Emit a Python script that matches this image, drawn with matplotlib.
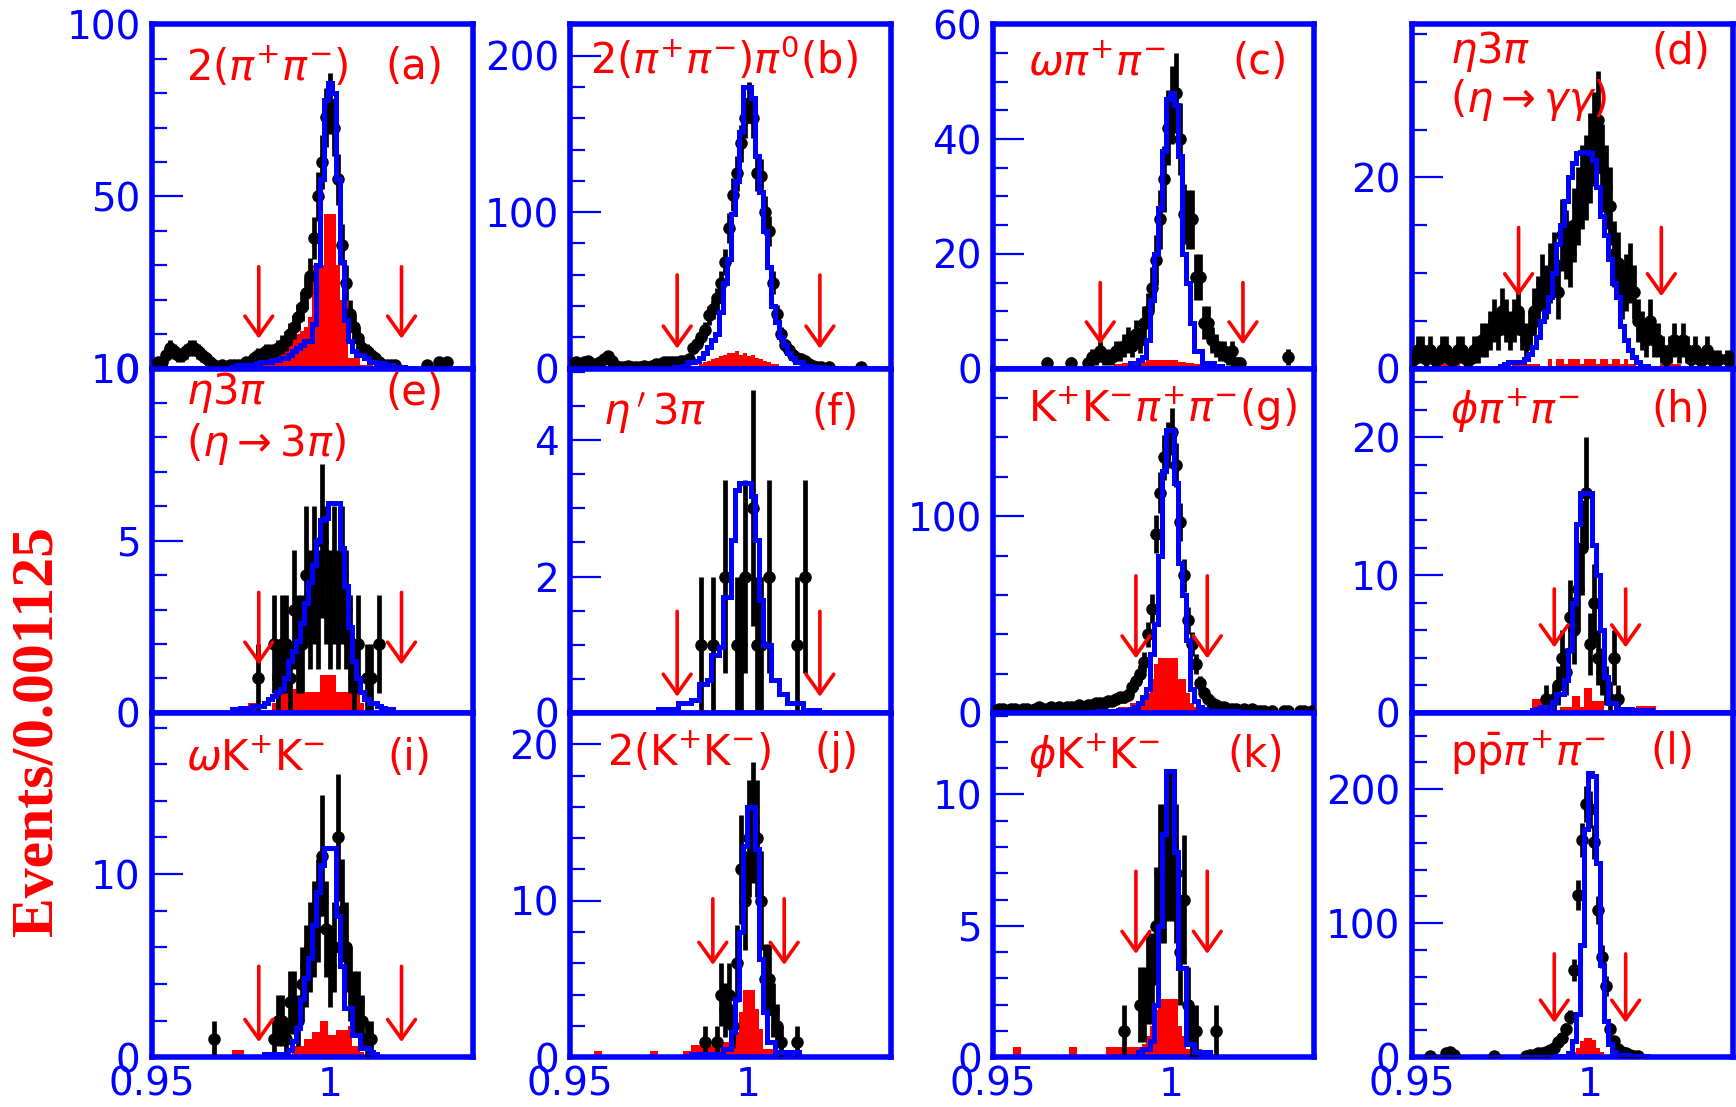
import numpy as np
import matplotlib
matplotlib.use("Agg")

import matplotlib.pyplot as plt
from matplotlib.ticker import MultipleLocator

# ---------------------------------------------------------------------------
# Binning: 80 bins of width 0.001125 starting at 0.95
# ---------------------------------------------------------------------------
X_LO = 0.95
BIN_WIDTH = 0.001125
N_BINS = 80

# Every series is (index of first listed bin, contents from that bin on).
# Bins that are not listed are empty.

# (a) 2(pi+pi-)
a_obs = (0, [1, 2, 2, 4, 6, 5, 4, 4, 5, 6,
             6, 5, 4, 3, 2, 1, 0, 1, 0, 1,
             1, 1, 1, 2, 2, 3, 4, 4, 5, 5,
             5, 6, 7, 8, 10, 12, 15, 18, 22, 27,
             38, 50, 60, 73, 77, 70, 55, 36, 25, 16,
             12, 9, 6, 5, 4, 3, 2, 1, 1, 1,
             1, 0, 0, 0, 0, 0, 0, 0, 1, 0,
             0, 2, 0, 2])
a_mc = (20, [0.5, 1, 1, 1, 1, 1, 1.5, 2, 2, 2,
             2.5, 2.5, 3, 3, 4, 5, 6, 7, 8, 8,
             13, 30, 55, 78, 83, 80, 55, 31, 14, 8,
             5, 4, 4, 3, 2, 2, 1.5, 1.5, 1, 1,
             0.5, 0.5, 0.5])
a_bkg = (0, [0.7, 0.7, 0.7, 0.7, 0.7, 0.7, 0.7, 0.7, 0.7, 0.7,
             0.7, 0.7, 0.7, 0.7, 0.7, 0.7, 1, 1, 1, 1,
             1, 1.5, 2, 2, 2.5, 3, 3, 3.5, 4, 4.5,
             5, 6, 6, 7, 8, 9, 10, 11, 12, 15,
             30, 30, 30, 45, 45, 45, 30, 20, 20, 3,
             3, 3, 1, 1, 1, 0.5, 0.5, 0.5, 0.5, 0.5, 0.5])

# (b) 2(pi+pi-)pi0
b_obs = (0, [3, 4, 3, 4, 5, 3, 3, 4, 6, 8,
             5, 2, 1, 1, 2, 1, 1, 1, 2, 1,
             2, 3, 3, 4, 4, 4, 4, 5, 5, 6,
             13, 16, 20, 25, 34, 38, 45, 55, 68, 90,
             111, 125, 144, 160, 170, 160, 125, 123, 100, 88,
             55, 35, 22, 15, 12, 9, 7, 6, 5, 3,
             2, 1, 1, 0, 1, 0, 0, 0, 0, 0,
             0, 0, 1])
b_mc = (26, [1, 1, 2, 4, 4, 5, 7, 10, 14, 18,
             22, 36, 55, 70, 99, 120, 151, 180, 180, 173,
             136, 113, 88, 65, 40, 30, 20, 15, 10, 7,
             4, 4, 2, 2, 1, 1, 1, 0.5, 0.5, 0.5])
b_bkg = (10, [1, 1, 1, 1, 1, 1, 1, 1, 1, 1,
              1, 1, 1, 1, 1, 1, 1, 1, 1, 1,
              1, 2, 3, 4, 5, 6, 7, 8, 9, 10,
              10, 11, 9, 10, 8, 9, 7, 6, 5, 4,
              3, 3, 2, 2, 1, 1, 0.5, 0.5, 0.5, 0.5,
              0.5, 0.5, 0.5, 0.5, 0.5, 0.5])

# (c) omega pi+pi-
c_obs = (13, [1, 0, 0, 0, 0, 0, 1, 0, 0, 0,
              1, 2, 2, 3, 2, 2, 2, 3, 3, 4,
              5, 4, 6, 5, 8, 10, 14, 19, 26, 33,
              42, 46, 48, 40, 27, 26, 26, 16, 16, 8,
              8, 5, 4, 3, 3, 2, 3, 1, 1, 0,
              0, 0, 0, 0, 0, 0, 0, 0, 0, 0, 2])
c_mc = (34, [1, 1, 1.5, 2, 5, 12, 20, 28, 38, 47,
             48, 46, 37, 20, 15, 8, 3, 3, 1, 1, 1, 0.5, 0.5])
c_bkg = (0, [0.5, 0.5, 0.5, 0, 0, 0, 0, 0, 0, 0,
             0, 0, 0, 0, 0, 0, 0, 0, 0, 0,
             0, 0, 0, 0, 0, 0, 0, 0, 0.5, 0.5,
             0.8, 0.8, 1, 1, 1, 1.2, 1.2, 1.2, 1.5, 1.5,
             1.5, 1.5, 1.5, 1.5, 1.5, 1.5, 1.2, 1.2, 1, 1,
             0.8, 0.8, 0.5, 0.5, 0.5])

# (d) eta 3pi, eta -> gamma gamma
d_obs = (0, [1, 2, 2, 1, 2, 1, 1, 2, 2, 1,
             1, 2, 2, 1, 1, 2, 2, 3, 3, 4,
             5, 4, 6, 5, 4, 5, 6, 4, 3, 4,
             6, 7, 9, 8, 10, 11, 8, 14, 13, 12,
             15, 17, 19, 20, 22, 24, 26, 21, 19, 17,
             12, 11, 8, 9, 10, 8, 5, 4, 3, 5,
             3, 3, 2, 1, 2, 3, 2, 3, 2, 1,
             2, 1, 1, 2, 1, 1, 1, 0, 1, 1])
d_mc = (22, [0.3, 0.5, 0.7, 0.7, 0.7, 0.7, 1, 1.5, 2.3, 3.3,
             5, 6, 7.5, 10, 13, 15, 17.5, 20, 21.5, 22.5,
             22.7, 22.7, 22.5, 21.8, 19, 16, 14, 11.5, 9, 7.5,
             4.5, 3, 2, 1.2, 0.7, 0.3, 0.3])
d_bkg = (6, [0.5, 0.5, 0.5, 0.5, 0.5, 0.5, 0, 0, 0, 0,
             0, 0, 0, 0, 0, 0, 0, 0, 0, 0.5,
             0.5, 0.5, 0.5, 0.5, 0.5, 0.5, 0, 0, 1, 0,
             1, 1, 0.5, 1, 1, 1, 0.5, 1, 1, 1,
             0.5, 1, 1, 0.5, 1, 1, 0.5, 1, 0.5, 0.5,
             0, 0, 0, 0, 0, 0, 0.5, 0.5, 0.5, 0.5, 0.5])

# (e) eta 3pi, eta -> 3pi
e_obs = (26, [1, 0, 0, 0, 2, 1, 2, 2, 1, 3,
              2, 2, 4, 3, 4, 3, 5, 4, 3, 4,
              3, 4, 3, 2, 1, 2, 0, 1, 1, 0, 2])
e_mc = (20, [0.1, 0.1, 0.15, 0.15, 0.15, 0.2, 0.2, 0.2, 0.3, 0.4,
             0.5, 0.6, 0.7, 1.0, 1.5, 1.8, 2.1, 2.6, 3.2, 3.8,
             4.3, 5.0, 5.6, 5.65, 6.1, 6.1, 6.1, 4.8, 3.7, 2.5,
             1.5, 1.0, 0.6, 0.4, 0.3, 0.3, 0.2, 0.15, 0.1, 0.1])
e_bkg = (24, [0.3, 0.3, 0, 0, 0, 0, 0.3, 0.7, 0.7, 0.7,
              0.7, 0.7, 0.6, 0.6, 0.6, 0.6, 0.6, 0.6, 1.1, 1.1,
              1.1, 1.1, 0.6, 0.6, 0.6, 0.6, 0.6, 0.6, 0.3])

# (f) eta' 3pi
f_obs = (32, [1, 0, 0, 1, 0, 0, 2, 0, 0, 1,
              1, 2, 0, 3, 1, 1, 0, 2, 0, 0,
              0, 0, 0, 0, 1, 0, 2])
f_mc = (22, [0.05, 0.05, 0.05, 0.05, 0.05, 0.14, 0.14, 0.14, 0.19, 0.19,
             0.43, 0.43, 0.48, 0.85, 0.85, 0.97, 1.7, 1.7, 2.54, 3.27,
             3.37, 3.37, 3.37, 3.18, 2.54, 1.66, 1.0, 1.0, 0.48, 0.48,
             0.28, 0.28, 0.14, 0.14, 0.14, 0.14, 0.04, 0.04, 0.04, 0.04])
f_bkg = (0, [])

# (g) K+K-pi+pi-
g_obs = (0, [1, 2, 2, 1, 2, 2, 1, 2, 2, 1,
             2, 3, 2, 2, 3, 2, 3, 2, 3, 3,
             3, 4, 3, 4, 4, 5, 5, 5, 6, 6,
             7, 8, 8, 9, 13, 16, 20, 26, 40, 53,
             91, 112, 130, 136, 143, 126, 97, 70, 47, 35,
             25, 15, 10, 7, 5, 4, 3, 3, 2, 2,
             2, 1, 2, 1, 2, 1, 1, 1, 0, 1,
             0, 0, 1, 1, 0, 0, 1, 1, 0, 1])
g_mc = (24, [0.5, 0.5, 1, 1, 1, 1, 1, 1.5, 1.5, 1.5,
             2, 3, 5, 8, 12, 30, 45, 80, 123, 144,
             144, 117, 76, 60, 37, 12, 6, 3, 2, 1,
             1, 1, 1, 1, 1, 1, 1, 0.5, 0.5, 0.5])
g_bkg = (0, [1, 1, 1, 1, 1, 1, 1, 1, 1, 1,
             1, 1, 1, 1, 1, 1.5, 1.5, 1.5, 1.5, 1.5,
             1.5, 1.5, 1.5, 1.5, 1.5, 1.5, 2, 2, 2, 2,
             2, 3, 3, 3, 5, 5, 6, 8, 10, 17,
             25, 28, 28, 28, 28, 28, 17, 17, 10, 5,
             3, 3, 1, 1, 1, 1, 1, 1, 1, 1,
             1, 0.5, 0.5, 0.5, 0.5, 0.5, 0.5, 0.5, 0.5, 0.5,
             0.5, 0.5, 0.5, 0.5, 0.5, 0.5, 0.5, 0.5, 0.5, 0.5])

# (h) phi pi+pi-
h_obs = (33, [1, 0, 1, 2, 4, 3, 7, 6, 9, 12,
              16, 5, 8, 4, 3, 2, 1, 4, 1])
h_mc = (30, [0.2, 0.3, 0.44, 0.44, 0.44, 0.8, 1.4, 1.4, 2.4, 4.6,
             8, 13.7, 16, 16, 16, 12.2, 10, 6, 2.6, 0.7,
             0.7, 0.3, 0.3, 0.3, 0.3, 0.2, 0.2, 0.2, 0.2, 0.2])
h_bkg = (30, [1, 1, 1, 0, 0, 0, 0, 0.4, 0.4, 0.4,
              1.2, 1.2, 0.4, 1.8, 1.8, 0.9, 0.9, 0.9, 0, 0,
              0, 0, 0, 0, 0, 0, 0.5, 0.5, 0.5, 0.5, 0.5])

# (i) omega K+K-
i_obs = (15, [1, 0, 0, 0, 0, 0, 0, 0, 0, 0,
              0, 0, 0, 0, 0, 1, 2, 2, 1, 3,
              3, 2, 4, 5, 6, 7, 8, 11, 7, 5,
              6, 12, 8, 6, 4, 3, 3, 2, 1, 1])
i_mc = (28, [0.2, 0.2, 0.2, 0.2, 0.2, 0.2, 0.4, 0.9, 1.6, 3.2,
             4.3, 5.4, 7.2, 9, 10.5, 11.4, 11.4, 11.4, 7.7, 5,
             2.7, 2.7, 1.2, 1.2, 0.5, 0.5, 0.3, 0.2])
i_bkg = (20, [0.4, 0.4, 0.4, 0, 0, 0, 0, 0, 0, 0,
              0, 0, 0, 0, 0, 0.6, 0.6, 0.6, 1, 1,
              1.4, 1.4, 2, 2, 1.2, 1.2, 1.5, 1.5, 1.5, 1.7,
              0.6, 0.6, 0.3])

# (j) 2(K+K-)
j_obs = (33, [1, 0, 0, 1, 4, 3, 4, 2, 6, 12,
              10, 14, 15, 14, 10, 5, 5, 3, 2, 1,
              0, 0, 0, 1])
j_mc = (30, [0.2, 0.2, 0.2, 0.2, 0.2, 0.2, 0.2, 0.2, 0.5, 0.5,
             1.6, 3.7, 8, 13.5, 16, 16, 13.3, 6.3, 2.9, 1,
             1, 0.3, 0.3, 0.3, 0.3, 0.3, 0.3])
j_bkg = (6, [0.4, 0.4, 0, 0, 0, 0, 0, 0, 0, 0,
             0, 0, 0, 0, 0.4, 0.4, 0, 0, 0, 0,
             0, 0, 0.4, 0.4, 0.75, 0.75, 0.75, 0.75, 0.75, 0.75,
             0.75, 1, 1, 1, 1.6, 1.6, 2.9, 4.3, 4.3, 4.3,
             3.1, 1.8, 0.5, 0.5, 0.5])

# (k) phi K+K-
k_obs = (32, [1, 0, 0, 0, 2, 2, 3, 3, 5, 7,
              7, 8, 8, 7, 4, 6, 2, 1, 1, 0,
              0, 0, 0, 1])
k_mc = (36, [0.2, 0.3, 0.3, 0.6, 2, 5, 8.5, 10.9, 10.9, 7.8,
             3.4, 3.4, 0.5, 0.5, 0.2, 0.2, 0.2, 0.2])
k_bkg = (5, [0.4, 0.4, 0, 0, 0, 0, 0, 0, 0, 0,
             0, 0, 0, 0, 0.4, 0.4, 0, 0, 0, 0,
             0, 0, 0, 0.4, 0.4, 0.4, 0.4, 0.4, 0.4, 0.4,
             0.4, 0.4, 0.5, 0.8, 1.2, 1.8, 2.2, 2.2, 2.2, 2.2,
             2.2, 1.2, 0.8, 0.3, 0.3, 0.3, 0.3])

# (l) p pbar pi+pi-
l_obs = (4, [1, 0, 0, 0, 3, 4, 2, 0, 0, 0,
             0, 0, 0, 0, 0, 0, 1, 0, 0, 0,
             0, 0, 0, 0, 1, 2, 2, 3, 3, 4,
             5, 7, 11, 14, 21, 30, 65, 121, 162, 189,
             185, 161, 110, 75, 53, 21, 12, 6, 4, 3,
             2, 1, 1])
l_mc = (31, [0.5, 0.5, 0.5, 0.5, 0.5, 1, 1, 1, 3, 12,
             32, 84, 170, 212, 210, 145, 69, 27, 10, 4,
             2, 2, 2, 1, 1, 1, 1, 1])
l_bkg = (37, [1, 2, 2, 4, 7, 12, 14, 14, 13, 7, 4, 2, 2, 1])

# channel names, panel tags, y ranges and cut positions
channel_labels = [r"$2(\pi^{+}\pi^{-})$", r"$2(\pi^{+}\pi^{-})\pi^{0}$(b)",
                  r"$\omega\pi^{+}\pi^{-}$", r"$\eta3\pi$",
                  r"$\eta3\pi$", r"$\eta\,'\,3\pi$",
                  r"$\mathrm{K}^{+}\mathrm{K}^{-}\pi^{+}\pi^{-}$(g)", r"$\phi\pi^{+}\pi^{-}$",
                  r"$\omega\mathrm{K}^{+}\mathrm{K}^{-}$", r"$2(\mathrm{K}^{+}\mathrm{K}^{-})$",
                  r"$\phi\mathrm{K}^{+}\mathrm{K}^{-}$", r"p$\bar{\mathrm{p}}\pi^{+}\pi^{-}$"]
decay_labels = {3: r"$(\eta\rightarrow\gamma\gamma)$", 4: r"$(\eta\rightarrow3\pi)$"}
panel_tags = ["(a)", None, "(c)", "(d)", "(e)", "(f)", None, "(h)",
              "(i)", "(j)", "(k)", "(l)"]
y_tops = [100, 220, 60, 36, 10, 5.05, 175, 25, 18.8, 22, 13.1, 257]
y_major = [50, 100, 20, 20, 5, 2, 100, 10, 10, 10, 5, 100]
y_minor = [10, 20, 5, 5, 1, 0.5, 20, 2, 2, 2, 1, 20]
wide_cuts = [0.98, 1.02]
narrow_cuts = [0.99, 1.01]
cut_sets = [wide_cuts, wide_cuts, wide_cuts, wide_cuts,
            wide_cuts, wide_cuts, narrow_cuts, narrow_cuts,
            wide_cuts, narrow_cuts, narrow_cuts, narrow_cuts]
x_ticks = [0.95, 1.0]
x_tick_labels = ["0.95", "1"]

observed = [a_obs, b_obs, c_obs, d_obs, e_obs, f_obs,
            g_obs, h_obs, i_obs, j_obs, k_obs, l_obs]
signal_mc = [a_mc, b_mc, c_mc, d_mc, e_mc, f_mc,
             g_mc, h_mc, i_mc, j_mc, k_mc, l_mc]
background = [a_bkg, b_bkg, c_bkg, d_bkg, e_bkg, f_bkg,
              g_bkg, h_bkg, i_bkg, j_bkg, k_bkg, l_bkg]

# ---------------------------------------------------------------------------
# Layout / style (figure fractions, axes fractions)
# ---------------------------------------------------------------------------
COL_LEFT = [0.0874, 0.3284, 0.5721, 0.8131]
ROW_BOTTOM = [0.667, 0.356, 0.045]
PANEL_W = 0.185
PANEL_H = 0.311

# (top, tip) of the cut arrows in axes fraction
ARROW_Y = [(0.296, 0.087), (0.272, 0.058), (0.25, 0.07), (0.41, 0.21),
           (0.35, 0.14), (0.295, 0.047), (0.398, 0.158), (0.36, 0.19),
           (0.264, 0.044), (0.46, 0.268), (0.54, 0.30), (0.30, 0.10)]
LABEL_POS = [(0.107, 0.875), (0.062, 0.90), (0.107, 0.89), (0.121, 0.92),
             (0.107, 0.93), (0.103, 0.87), (0.107, 0.885), (0.121, 0.88),
             (0.107, 0.87), (0.114, 0.887), (0.107, 0.877), (0.121, 0.887)]
TAG_X = [0.907, None, 0.917, 0.93, 0.907, 0.897, None, 0.93,
         0.872, 0.897, 0.907, 0.88]
DECAY_Y = 0.78

BLUE = "#0000ff"
RED = "#ff0000"
LABEL_SIZE = 30
TICK_SIZE = 28


def binned(series):
    """Spread a (start, values) series over the full 80-bin range."""
    start, values = series
    out = np.zeros(N_BINS)
    out[start:start + len(values)] = values
    return out


def draw_panel(ax, idx, edges, centers):
    obs = binned(observed[idx])
    mc = binned(signal_mc[idx])
    bkg = binned(background[idx])

    ax.stairs(bkg, edges, fill=True, color=RED, lw=0, zorder=2)
    has = obs > 0
    ax.errorbar(centers[has], obs[has], yerr=np.sqrt(obs[has]),
                xerr=BIN_WIDTH / 2, fmt="o", color="black", ms=8,
                elinewidth=3.4, capsize=0, zorder=3)
    ax.stairs(mc, edges, color=BLUE, lw=3.6, zorder=4)

    ax.set_xlim(X_LO, X_LO + N_BINS * BIN_WIDTH)
    ax.set_ylim(0, y_tops[idx])

    # cut arrows
    top, tip = ARROW_Y[idx]
    trans = ax.get_xaxis_transform()
    for xc in cut_sets[idx]:
        ax.annotate("", xy=(xc, tip), xytext=(xc, top), xycoords=trans,
                    textcoords=trans, zorder=5,
                    arrowprops=dict(arrowstyle="->,head_length=0.7,head_width=0.5",
                                    color=RED, lw=2.6, mutation_scale=20,
                                    shrinkA=0, shrinkB=0))

    # channel text
    lx, ly = LABEL_POS[idx]
    ax.text(lx, ly, channel_labels[idx], transform=ax.transAxes, color=RED,
            fontsize=LABEL_SIZE, ha="left", va="center", zorder=6)
    if panel_tags[idx]:
        ax.text(TAG_X[idx], ly, panel_tags[idx], transform=ax.transAxes,
                color=RED, fontsize=LABEL_SIZE, ha="right", va="center", zorder=6)
    if idx in decay_labels:
        ax.text(lx, DECAY_Y, decay_labels[idx], transform=ax.transAxes,
                color=RED, fontsize=LABEL_SIZE, ha="left", va="center", zorder=6)

    # frame and ticks
    for sp in ax.spines.values():
        sp.set_color(BLUE)
        sp.set_linewidth(4)
    ax.yaxis.set_major_locator(MultipleLocator(y_major[idx]))
    ax.yaxis.set_minor_locator(MultipleLocator(y_minor[idx]))
    ax.tick_params(axis="y", which="major", direction="in", length=22,
                   width=1.6, color=BLUE, labelcolor=BLUE,
                   labelsize=TICK_SIZE, pad=8)
    ax.tick_params(axis="y", which="minor", direction="in", length=11,
                   width=1.6, color=BLUE)
    ax.set_xticks(x_ticks)
    ax.tick_params(axis="x", which="both", length=0, labelcolor=BLUE,
                   labelsize=TICK_SIZE, pad=6)
    if idx >= 8:
        ax.set_xticklabels(x_tick_labels)
    else:
        ax.tick_params(axis="x", labelbottom=False)


def main():
    plt.rcParams["font.family"] = ["DejaVu Sans"]
    plt.rcParams["mathtext.fontset"] = "dejavusans"

    edges = X_LO + BIN_WIDTH * np.arange(N_BINS + 1)
    centers = 0.5 * (edges[:-1] + edges[1:])

    fig = plt.figure(figsize=(17.36, 11.07), dpi=100)
    fig.patch.set_facecolor("white")
    for idx in range(12):
        row, col = divmod(idx, 4)
        ax = fig.add_axes([COL_LEFT[col], ROW_BOTTOM[row], PANEL_W, PANEL_H])
        draw_panel(ax, idx, edges, centers)

    fig.text(0.022, 0.34, "Events/0.001125", rotation=90, color=RED,
             family="Liberation Serif", fontweight="bold", fontsize=43,
             ha="center", va="center")

    fig.savefig("out.png", dpi=100)
    plt.close(fig)


if __name__ == "__main__":
    main()
